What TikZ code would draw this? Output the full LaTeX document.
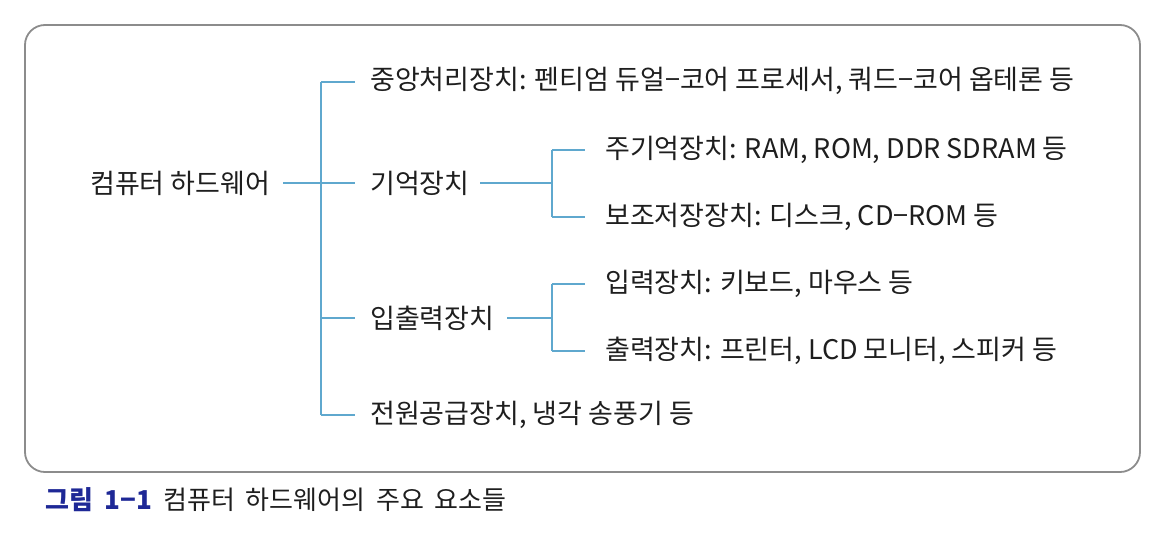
\documentclass[tikz,border=0pt]{standalone}
\usepackage{fontspec}
\newfontfamily\kr{Noto Sans CJK KR}
\definecolor{linkblue}{RGB}{95,168,206}
\definecolor{boxgray}{RGB}{140,140,140}
\definecolor{capblue}{RGB}{30,40,150}
\definecolor{txt}{RGB}{30,30,30}
\begin{document}
\begin{tikzpicture}[x=1pt,y=-1pt,
  lbl/.style={anchor=west, inner sep=0pt, font=\kr\fontsize{27}{30}\selectfont, text=txt},
  captext/.style={anchor=west, inner sep=0pt, font=\kr\fontsize{26}{30}\selectfont},
  link/.style={draw=linkblue, line width=1.4pt}]
\useasboundingbox (0,0) rectangle (1174,544);
\draw[boxgray, line width=1.8pt, rounded corners=20pt] (25,25) rectangle (1140,472);
% nodes
\node[lbl] (root) at (90,183) {컴퓨터 하드웨어};
\node[lbl] (cpu) at (370,81) {중앙처리장치: 펜티엄 듀얼−코어 프로세서, 쿼드−코어 옵테론 등};
\node[lbl] (mem) at (370,183) {기억장치};
\node[lbl] (io) at (370,318) {입출력장치};
\node[lbl] (pw) at (370,415) {전원공급장치, 냉각 송풍기 등};
\node[lbl] (main) at (605,150) {주기억장치: RAM, ROM, DDR SDRAM 등};
\node[lbl] (sub) at (605,217) {보조저장장치: 디스크, CD−ROM 등};
\node[lbl] (in) at (605,284) {입력장치: 키보드, 마우스 등};
\node[lbl] (out) at (605,351) {출력장치: 프린터, LCD 모니터, 스피커 등};
% junctions
\coordinate (t1) at (321,82);
\coordinate (t2) at (321,183);
\coordinate (t3) at (321,318);
\coordinate (t4) at (321,415);
\coordinate (m0) at (552,183);
\coordinate (m1) at (552,150);
\coordinate (m2) at (552,217);
\coordinate (i0) at (552,318);
\coordinate (i1) at (552,284);
\coordinate (i2) at (552,351);
% connectors
\draw[link] (t1) -- (t4);
\draw[link] (283,183) -- (t2);
\draw[link, shorten >=15pt] (t2) -- (mem.west |- t2);
\draw[link, shorten >=15pt] (t1) -- (cpu.west |- t1);
\draw[link, shorten >=15pt] (t3) -- (io.west |- t3);
\draw[link, shorten >=15pt] (t4) -- (pw.west |- t4);
\draw[link] (480,183) -- (m0);
\draw[link] (m1) -- (m2);
\draw[link, shorten >=20pt] (m1) -- (main.west |- m1);
\draw[link, shorten >=20pt] (m2) -- (sub.west |- m2);
\draw[link] (507,318) -- (i0);
\draw[link] (i1) -- (i2);
\draw[link, shorten >=20pt] (i1) -- (in.west |- i1);
\draw[link, shorten >=20pt] (i2) -- (out.west |- i2);
% caption
\node[captext, text=capblue, font=\kr\bfseries\fontsize{26}{30}\selectfont] (capnum) at (45,500) {그림\hspace{6pt} 1−1};
\node[captext, text=txt] (capt) at (163,500) {컴퓨터\hspace{5pt} 하드웨어의\hspace{5pt} 주요\hspace{5pt} 요소들};
\end{tikzpicture}
\end{document}
